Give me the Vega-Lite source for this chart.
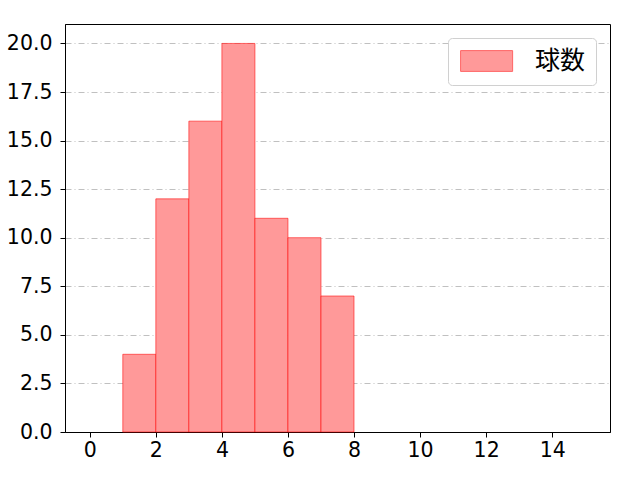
{
  "$schema": "https://vega.github.io/schema/vega-lite/v6.json",
  "width": 545,
  "height": 408,
  "autosize": {"type": "none"},
  "padding": {"left": 65, "top": 24, "right": 30, "bottom": 48},
  "background": "white",
  "config": {
    "font": "DejaVu Sans",
    "view": {"stroke": "black", "strokeWidth": 1},
    "axis": {
      "labelFont": "DejaVu Sans",
      "labelFontSize": 20.5,
      "labelColor": "black",
      "domainColor": "black",
      "tickColor": "black",
      "tickSize": 5,
      "labelPadding": 4,
      "title": null
    }
  },
  "data": {
    "values": [
      {"start": 1, "end": 2, "count": 4, "series": "球数"},
      {"start": 2, "end": 3, "count": 12, "series": "球数"},
      {"start": 3, "end": 4, "count": 16, "series": "球数"},
      {"start": 4, "end": 5, "count": 20, "series": "球数"},
      {"start": 5, "end": 6, "count": 11, "series": "球数"},
      {"start": 6, "end": 7, "count": 10, "series": "球数"},
      {"start": 7, "end": 8, "count": 7, "series": "球数"}
    ]
  },
  "mark": {"type": "rect", "fillOpacity": 1, "stroke": "#ff0000", "strokeOpacity": 0.55, "strokeWidth": 1},
  "encoding": {
    "x": {
      "field": "start",
      "type": "quantitative",
      "scale": {"domain": [-0.75, 15.75], "nice": false, "zero": false},
      "axis": {"values": [0, 2, 4, 6, 8, 10, 12, 14], "grid": false, "format": "d", "labelPadding": 3}
    },
    "x2": {"field": "end"},
    "y": {
      "field": "count",
      "type": "quantitative",
      "scale": {"domain": [0, 21], "nice": false},
      "axis": {
        "values": [0, 2.5, 5, 7.5, 10, 12.5, 15, 17.5, 20],
        "format": ".1f",
        "labelPadding": 8,
        "grid": true,
        "gridColor": "#b0b0b0",
        "gridDash": [6, 3, 1, 3],
        "gridWidth": 0.8
      }
    },
    "y2": {"datum": 0},
    "color": {
      "field": "series",
      "type": "nominal",
      "scale": {"range": ["#ff9999"]},
      "legend": {
        "title": null,
        "orient": "top-right",
        "offset": 14,
        "symbolType": "M-2.5,-1H2.5V1H-2.5Z",
        "symbolSize": 433,
        "symbolOffset": 15.6,
        "symbolStrokeColor": "#ff6666",
        "symbolStrokeWidth": 1,
        "symbolOpacity": 1,
        "labelFontSize": 25,
        "labelFont": "Noto Sans CJK JP",
        "labelColor": "black",
        "labelOffset": 36,
        "padding": 10.5,
        "fillColor": "white",
        "strokeColor": "#d0d0d0",
        "cornerRadius": 4
      }
    }
  }
}
